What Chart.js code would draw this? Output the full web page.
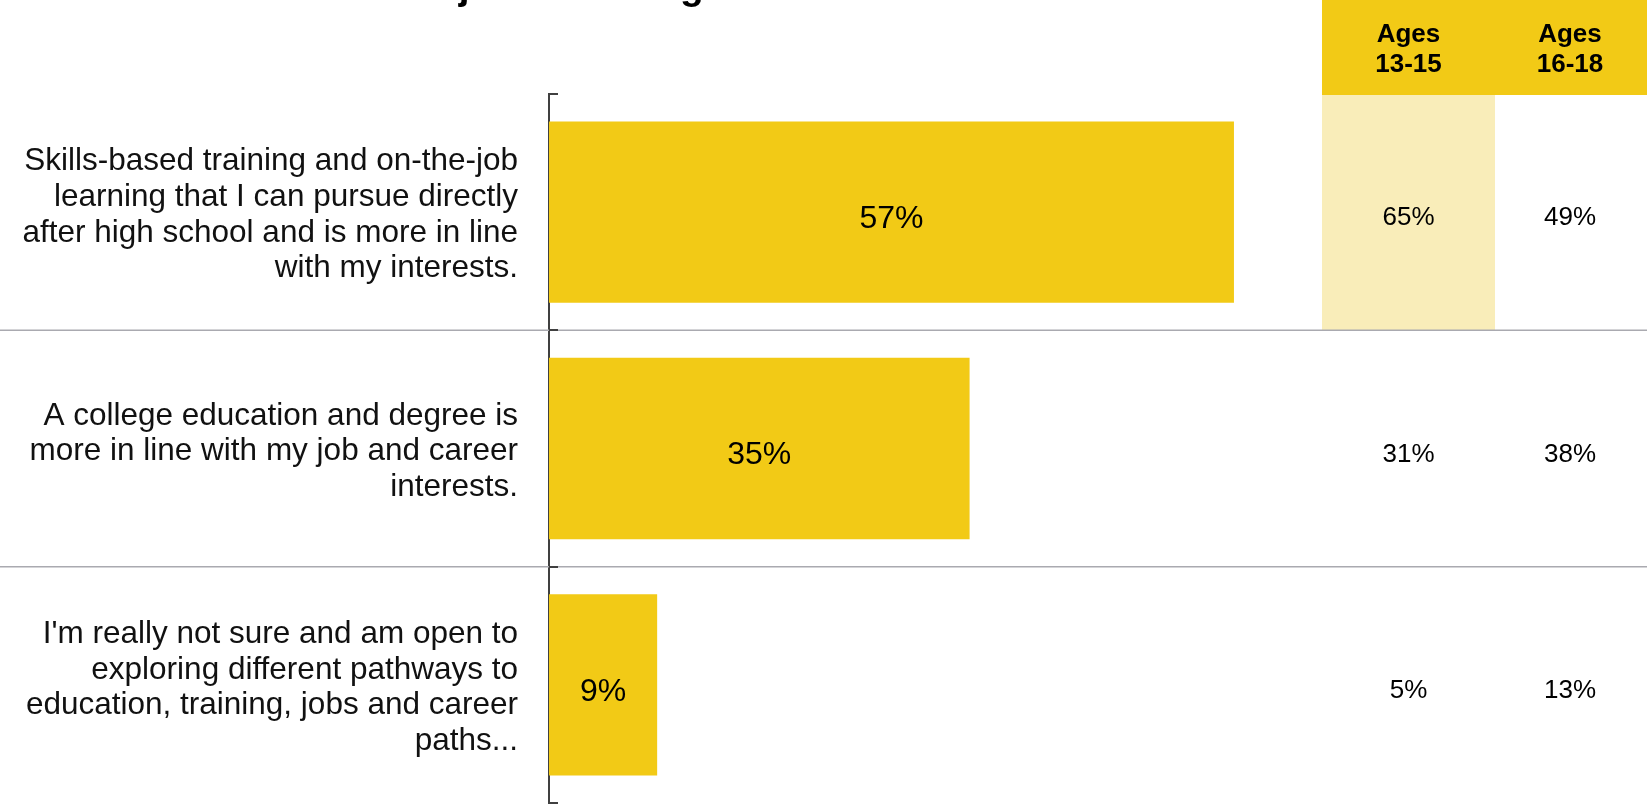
<!DOCTYPE html>
<html>
<head>
<meta charset="utf-8">
<title>Education and jobs after high school</title>
<script src="https://cdn.jsdelivr.net/npm/chart.js@4.4.0/dist/chart.umd.min.js"></script>
<style>
    html, body { margin: 0; padding: 0; background: #ffffff; }
    #wrap { width: 1647px; height: 804px; overflow: hidden; }
</style>
</head>
<body>
<div id="wrap"><canvas id="chart" width="1647" height="804"></canvas></div>
<script>
// Data
const titleText = 'Forms of education and jobs after high school';
const categories = [
    ['Skills-based training and on-the-job', 'learning that I can pursue directly', 'after high school and is more in line', 'with my interests.'],
    ['A college education and degree is', 'more in line with my job and career', 'interests.'],
    ["I'm really not sure and am open to", 'exploring different pathways to', 'education, training, jobs and career', 'paths...']
];
const totalValues = [57, 35, 9];
const ages1315 = [65, 31, 5];
const ages1618 = [49, 38, 13];
const columnHeaders = [['Ages', '13-15'], ['Ages', '16-18']];
const highlightRow = 0; // row shaded in the 13-15 column

const BAR = '#F2CA16';
const LIGHT = '#F9EDB9';
const FONT = '"Liberation Sans", Arial, sans-serif';

// Draws title strip, side table, separators, axis ticks and bar labels
const decorations = {
    id: 'decorations',
    beforeDatasetsDraw(chart) {
        const { ctx, scales } = chart;
        const y = scales.y;
        const half = (y.getPixelForValue(1) - y.getPixelForValue(0)) / 2;
        ctx.save();

        // table header
        ctx.fillStyle = BAR;
        ctx.fillRect(1322, 0, 325, 95);
        // highlighted cell
        const rc = y.getPixelForValue(highlightRow);
        ctx.fillStyle = LIGHT;
        ctx.fillRect(1322, 95, 173, rc + half - 95);

        // row separators across full width
        ctx.strokeStyle = '#AAAAB0';
        ctx.lineWidth = 1.5;
        for (let i = 1; i < categories.length; i++) {
            const sy = y.getPixelForValue(i) - half;
            ctx.beginPath();
            ctx.moveTo(0, sy);
            ctx.lineTo(1647, sy);
            ctx.stroke();
        }
        ctx.restore();
    },
    afterDraw(chart) {
        const { ctx, chartArea, scales } = chart;
        const y = scales.y;
        const half = (y.getPixelForValue(1) - y.getPixelForValue(0)) / 2;
        ctx.save();

        // title, mostly cut off at the top
        ctx.fillStyle = '#000';
        ctx.font = 'bold 39px ' + FONT;
        ctx.textAlign = 'left';
        ctx.textBaseline = 'alphabetic';
        ctx.fillText(titleText, 6, -1);

        // inward ticks on the category axis
        ctx.strokeStyle = '#404040';
        ctx.lineWidth = 2;
        for (let i = 0; i <= categories.length; i++) {
            const ty = Math.round(y.getPixelForValue(i) - half);
            ctx.beginPath();
            ctx.moveTo(chartArea.left, ty);
            ctx.lineTo(chartArea.left + 9, ty);
            ctx.stroke();
        }

        // header text
        const colX = [1408.5, 1570];
        ctx.fillStyle = '#000';
        ctx.font = 'bold 26px ' + FONT;
        ctx.textAlign = 'center';
        ctx.textBaseline = 'middle';
        columnHeaders.forEach((lines, c) => {
            ctx.fillText(lines[0], colX[c], 35);
            ctx.fillText(lines[1], colX[c], 65);
        });

        // table values
        ctx.font = '26px ' + FONT;
        categories.forEach((_, i) => {
            const cy = y.getPixelForValue(i);
            ctx.fillText(ages1315[i] + '%', colX[0], cy + 6);
            ctx.fillText(ages1618[i] + '%', colX[1], cy + 6);
        });

        // bar value labels
        const meta = chart.getDatasetMeta(0);
        ctx.font = '32px ' + FONT;
        meta.data.forEach((bar, i) => {
            const cx = (bar.x + bar.base) / 2;
            ctx.fillText(totalValues[i] + '%', cx, bar.y + 7);
        });
        ctx.restore();
    }
};

new Chart(document.getElementById('chart').getContext('2d'), {
    type: 'bar',
    data: {
        labels: categories,
        datasets: [
            {
                label: 'Total',
                data: totalValues,
                backgroundColor: BAR,
                borderWidth: 0,
                barPercentage: 0.767,
                categoryPercentage: 1
            }
        ]
    },
    options: {
        indexAxis: 'y',
        responsive: false,
        animation: false,
        events: [],
        layout: {
            padding: { top: 94, bottom: 1, left: 0, right: 377 }
        },
        plugins: {
            legend: { display: false },
            tooltip: { enabled: false },
            title: { display: false }
        },
        scales: {
            x: {
                display: false,
                min: 0,
                max: 60
            },
            y: {
                afterFit(scale) {
                    // fixed gutter for the labels, no extra room for tall labels
                    scale.width = 549;
                    scale.paddingTop = 0;
                    scale.paddingBottom = 0;
                },
                border: { display: true, color: '#404040', width: 2 },
                grid: { display: false, drawTicks: false },
                ticks: {
                    color: '#111',
                    padding: 31,
                    labelOffset: 3,
                    font: { family: FONT, size: 31.5, lineHeight: 1.13 }
                }
            }
        }
    },
    plugins: [decorations]
});
</script>
</body>
</html>
